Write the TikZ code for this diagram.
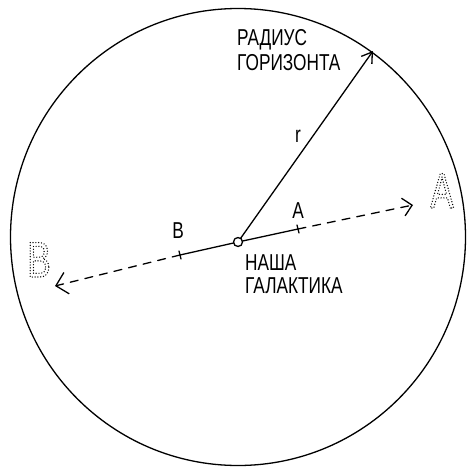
\documentclass[tikz,border=0pt]{standalone}
\usepackage{fontspec}
\newfontfamily\handfont[FakeStretch=0.75]{Liberation Sans}
\newfontfamily\bigfont[FakeStretch=0.7]{Liberation Sans}
\usetikzlibrary{arrows.meta,calc}
\newcommand{\dotletter}[1]{\special{pdf:literal direct 1 Tr 1.4 w 1 J 1 j [0 2.8] 0 d}#1\special{pdf:literal direct 0 Tr [] 0 d 0 J 0 j}}
\begin{document}
\begin{tikzpicture}[x=1pt,y=-1pt,
  ink/.style={line width=1.3pt,black,line cap=round,line join=round},
  dashline/.style={ink,dash pattern=on 8pt off 7pt},
  lbl/.style={font=\handfont\fontsize{23}{25}\selectfont,inner sep=0pt,anchor=base west},
  galaxy/.style={circle,draw,line width=1.3pt,fill=white,minimum size=9pt,inner sep=0pt},
  bigletter/.style={font=\bigfont\fontsize{50}{50}\selectfont,inner sep=0pt,anchor=base}]
\useasboundingbox (0,0) rectangle (468,466);
% horizon
\draw[ink] (238,237) ellipse [x radius=227.5, y radius=228.5];
% points
\coordinate (rend) at (373,51);
\coordinate (tA) at (298,229);
\coordinate (tB) at (180,255);
\coordinate (eA) at (413,205);
\coordinate (eB) at (55,286);
% radius
\draw[ink,-{Straight Barb[length=10pt,width=13pt,line width=1.3pt]}] (238,242) -- (rend);
% segments
\draw[ink] (238,242) -- (tA);
\draw[ink] (238,242) -- (tB);
\draw[dashline,-{Straight Barb[length=9pt,width=18pt,line width=1.3pt]}] (tA) -- (eA);
\draw[dashline,-{Straight Barb[length=11pt,width=22pt,line width=1.3pt]}] (tB) -- (eB);
% ticks
\draw[ink] ([shift={(-1,-4)}]tA) -- ([shift={(1,4)}]tA);
\draw[ink] ([shift={(-1,-4)}]tB) -- ([shift={(1,4)}]tB);
\node[galaxy] (g) at (238,242) {};
% labels
\node[lbl] (rad1) at (237,45) {РАДИУС};
\node[lbl] (rad2) at (237,70) {ГОРИЗОНТА};
\node[lbl,anchor=base] (r) at (298,142) {r};
\node[lbl] (gal1) at (245,270) {НАША};
\node[lbl] (gal2) at (245,293) {ГАЛАКТИКА};
\node[lbl,anchor=base] (la) at (298,218) {A};
\node[lbl,anchor=base] (lb) at (178,238) {B};
\node[bigletter] (bigA) at (442,208) {\dotletter{A}};
\node[bigletter] (bigB) at (39,277) {\dotletter{B}};
\end{tikzpicture}
\end{document}
